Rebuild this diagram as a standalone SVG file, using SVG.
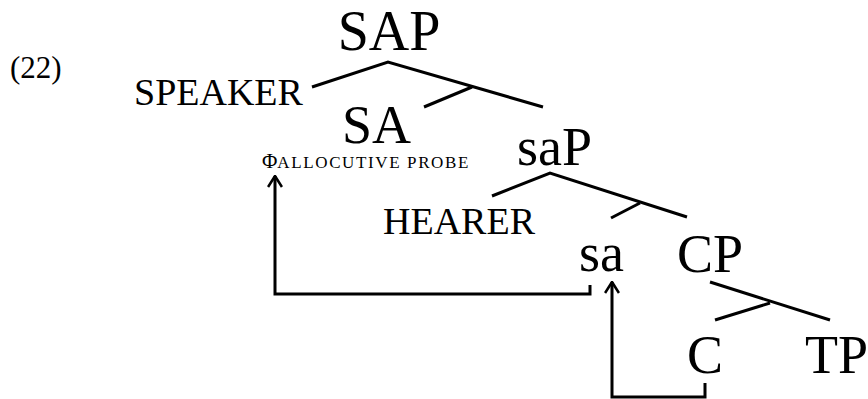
<svg xmlns="http://www.w3.org/2000/svg" width="868" height="399" viewBox="0 0 868 399">
  <style>
    text { font-family: "Liberation Serif", "Times New Roman", serif; fill: #000; }
    .cat { font-size: 54px; }
    .spec { font-size: 38px; }
    .num { font-size: 31px; }
    .probe { font-size: 17px; }
    .phi { font-size: 21px; }
    .branch { stroke: #000; stroke-width: 3; fill: none; stroke-linecap: butt; }
    .move { stroke: #000; stroke-width: 3; fill: none; marker-end: url(#head); }
  </style>
  <defs>
    <!-- open chevron head, tip on the end of the path -->
    <marker id="head" viewBox="0 0 14 16" refX="12.5" refY="8" markerWidth="14" markerHeight="16" markerUnits="userSpaceOnUse" orient="auto">
      <path d="M1.5,1 L12.5,8 L1.5,15" fill="none" stroke="#000" stroke-width="2.6" stroke-linejoin="miter"/>
    </marker>
  </defs>
  <rect width="868" height="399" fill="#fff"/>

  <text class="num" x="10" y="78">(22)</text>

  <!-- tree branches -->
  <g id="branches">
    <polyline class="branch" points="312,87 388,62 543,107"/>
    <line class="branch" x1="472" y1="87" x2="424" y2="107"/>
    <polyline class="branch" points="492,196 550,173 687,217"/>
    <line class="branch" x1="640" y1="203" x2="611" y2="218"/>
    <line class="branch" x1="710" y1="282" x2="830" y2="320"/>
    <line class="branch" x1="770" y1="303" x2="715" y2="320"/>
  </g>

  <!-- movement arrows -->
  <g id="connectors">
    <path class="move" d="M590,285 V294 H275 V176"/>
    <path class="move" d="M705,383 V397 H612 V282"/>
  </g>

  <g id="node-SAP"><text class="cat" x="389" y="50" text-anchor="middle" style="font-size:56px">SAP</text></g>
  <g id="node-SPEAKER"><text class="spec" x="134" y="105">SPEAKER</text></g>
  <g id="node-SA"><text class="cat" x="342" y="143">SA</text></g>
  <g id="node-probe"><text x="262" y="168"><tspan class="phi">Φ</tspan><tspan class="probe" textLength="191" lengthAdjust="spacing">ALLOCUTIVE PROBE</tspan></text></g>
  <g id="node-saP"><text class="cat" x="517" y="165">saP</text></g>
  <g id="node-HEARER"><text class="spec" x="383" y="234">HEARER</text></g>
  <g id="node-sa"><text class="cat" x="579" y="271">sa</text></g>
  <g id="node-CP"><text class="cat" x="677" y="272">CP</text></g>
  <g id="node-C"><text class="cat" x="687" y="373">C</text></g>
  <g id="node-TP"><text class="cat" x="805" y="373">TP</text></g>
</svg>
